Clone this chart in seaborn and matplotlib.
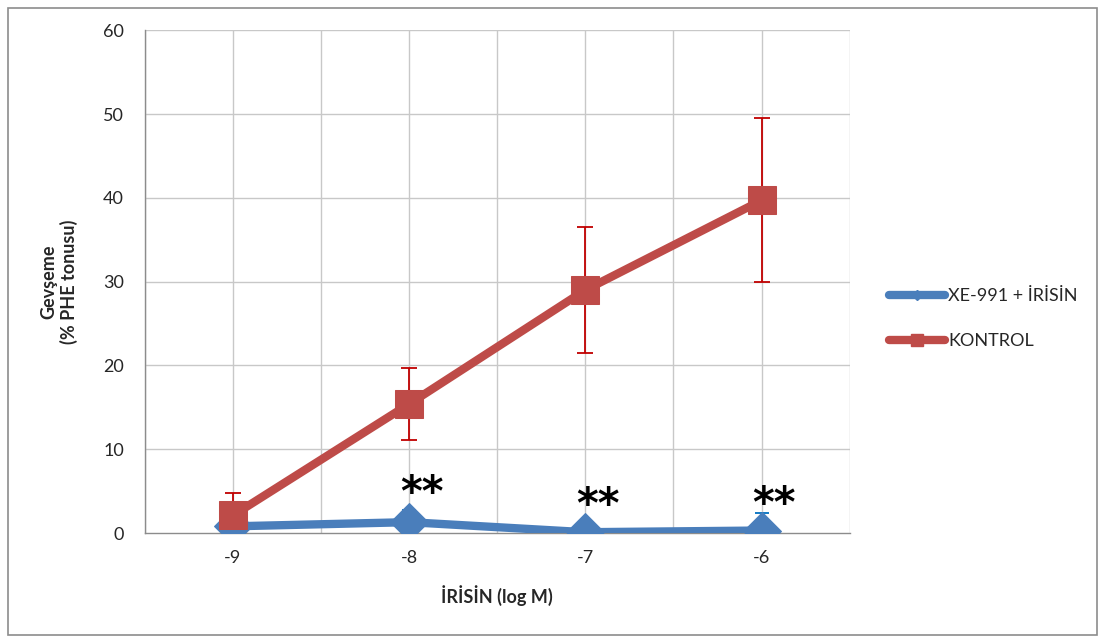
import matplotlib
matplotlib.use("Agg")
import matplotlib.pyplot as plt
import seaborn as sns
import pandas as pd
from matplotlib.lines import Line2D
from matplotlib.patches import Rectangle

# veri
log_doz = [-9, -8, -7, -6]
xe_irisin = [0.8, 1.3, 0.1, 0.3]
xe_irisin_hata = [0.0, 1.4, 0.9, 2.1]
kontrol = [2.1, 15.4, 29.0, 39.7]
kontrol_hata = [2.7, 4.3, 7.5, 9.8]
yildiz_x = [-8, -7, -6]
yildiz_y = [4.6, 3.2, 3.4]

mavi = "#4A7EBB"
kirmizi = "#BE4B48"

sns.set_style("white")
plt.rcParams['font.family'] = ['Lato', 'DejaVu Sans']

fig = plt.figure(figsize=(11.05, 6.43), dpi=100)
ax = fig.add_axes([0.131, 0.171, 0.638, 0.782])

df = pd.DataFrame({
    "x": log_doz * 2,
    "y": xe_irisin + kontrol,
    "seri": ["XE-991 + İRİSİN"] * 4 + ["KONTROL"] * 4,
})

# hata çubukları
ax.errorbar(log_doz, kontrol, yerr=kontrol_hata, fmt="none", ecolor="#C00000",
            elinewidth=1.3, capsize=6, capthick=1.3, zorder=2)
ax.errorbar(log_doz, xe_irisin, yerr=[[0] * 4, xe_irisin_hata], fmt="none", ecolor="#0070C0",
            elinewidth=1.3, capsize=5, capthick=1.3, zorder=2)

sns.lineplot(data=df[df.seri == "XE-991 + İRİSİN"], x="x", y="y", ax=ax, color=mavi,
             linewidth=6, marker="D", markersize=19, markeredgecolor=mavi,
             legend=False, zorder=3)
sns.lineplot(data=df[df.seri == "KONTROL"], x="x", y="y", ax=ax, color=kirmizi,
             linewidth=6, marker="s", markersize=20, markeredgecolor=kirmizi,
             legend=False, zorder=4)

for xx, yy in zip(yildiz_x, yildiz_y):
    ax.text(xx + 0.07, yy, "**", fontsize=30, fontweight="bold", ha="center", va="center",
            family="DejaVu Sans", color="black", zorder=5)

ax.set_xlim(-9.5, -5.5)
ax.set_ylim(0, 60)
ax.set_yticks(range(0, 61, 10))
ax.set_xticks([-9.5, -8.5, -7.5, -6.5, -5.5])
ax.set_xticklabels([])
ax.set_xticks(log_doz, minor=True)
ax.set_xticklabels([str(v) for v in log_doz], minor=True)
ax.tick_params(axis="x", which="major", direction="out", length=6, color="#8C8C8C", width=1)
ax.tick_params(axis="x", which="minor", length=0, labelsize=13, pad=12)
ax.tick_params(axis="y", direction="out", length=6, color="#8C8C8C", width=1, labelsize=13, pad=9)

# ızgara
for gx in [-9.5 + 0.5 * i for i in range(9)]:
    ax.axvline(gx, color="#C8C8C8", linewidth=1, zorder=0)
for gy in range(10, 61, 10):
    ax.axhline(gy, color="#C8C8C8", linewidth=1, zorder=0)

for s in ["top", "right"]:
    ax.spines[s].set_visible(False)
for s in ["left", "bottom"]:
    ax.spines[s].set_color("#8C8C8C")
    ax.spines[s].set_linewidth(1)

ax.set_xlabel("İRİSİN (log M)", fontsize=13, fontweight="bold", labelpad=14)
ax.set_ylabel("Gevşeme\n(% PHE tonusu)", fontsize=13, fontweight="bold", labelpad=18)

tutamak = [
    Line2D([0], [0], color=mavi, linewidth=6, marker="D", markersize=5, solid_capstyle="round"),
    Line2D([0], [0], color=kirmizi, linewidth=6, marker="s", markersize=8, solid_capstyle="round"),
]
fig.legend(tutamak, ["XE-991 + İRİSİN", "KONTROL"], loc="center left",
           bbox_to_anchor=(0.79, 0.504), frameon=False, fontsize=13,
           handlelength=3.1, handletextpad=0.15, labelspacing=1.6)

fig.patches.append(Rectangle((0.007, 0.012), 0.986, 0.975, transform=fig.transFigure,
                             fill=False, edgecolor="#8C8C8C", linewidth=1.2))

fig.savefig("out.png", dpi=100)
